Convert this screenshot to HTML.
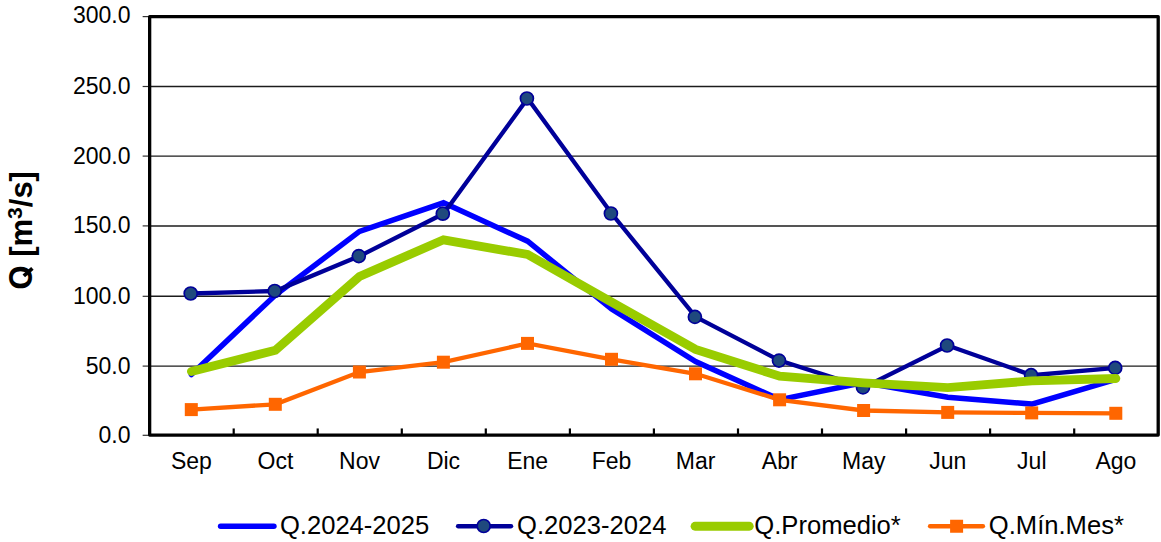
<!DOCTYPE html>
<html><head><meta charset="utf-8"><title>Q chart</title>
<style>
html,body{margin:0;padding:0;background:#fff;}
body{width:1161px;height:542px;overflow:hidden;font-family:"Liberation Sans",sans-serif;}
svg{display:block;}
text{font-family:"Liberation Sans",sans-serif;fill:#000;}
</style></head><body>
<svg width="1161" height="542" viewBox="0 0 1161 542">
<rect x="0" y="0" width="1161" height="542" fill="#fff"/>
<line x1="149.65" x2="1158.2" y1="366.10" y2="366.10" stroke="#1c1c1c" stroke-width="1.4"/>
<line x1="149.65" x2="1158.2" y1="296.30" y2="296.30" stroke="#1c1c1c" stroke-width="1.4"/>
<line x1="149.65" x2="1158.2" y1="225.95" y2="225.95" stroke="#1c1c1c" stroke-width="1.4"/>
<line x1="149.65" x2="1158.2" y1="156.10" y2="156.10" stroke="#1c1c1c" stroke-width="1.4"/>
<line x1="149.65" x2="1158.2" y1="86.45" y2="86.45" stroke="#1c1c1c" stroke-width="1.4"/>
<line x1="142.65" x2="149.65" y1="435.3" y2="435.3" stroke="#333" stroke-width="1.2"/>
<line x1="142.65" x2="149.65" y1="366.1" y2="366.1" stroke="#333" stroke-width="1.2"/>
<line x1="142.65" x2="149.65" y1="296.3" y2="296.3" stroke="#333" stroke-width="1.2"/>
<line x1="142.65" x2="149.65" y1="225.9" y2="225.9" stroke="#333" stroke-width="1.2"/>
<line x1="142.65" x2="149.65" y1="156.1" y2="156.1" stroke="#333" stroke-width="1.2"/>
<line x1="142.65" x2="149.65" y1="86.5" y2="86.5" stroke="#333" stroke-width="1.2"/>
<line x1="142.65" x2="149.65" y1="16.6" y2="16.6" stroke="#333" stroke-width="1.2"/>
<line x1="233.7" x2="233.7" y1="428.45" y2="435.05" stroke="#000" stroke-width="2.2"/>
<line x1="317.7" x2="317.7" y1="428.45" y2="435.05" stroke="#000" stroke-width="2.2"/>
<line x1="401.8" x2="401.8" y1="428.45" y2="435.05" stroke="#000" stroke-width="2.2"/>
<line x1="485.8" x2="485.8" y1="428.45" y2="435.05" stroke="#000" stroke-width="2.2"/>
<line x1="569.9" x2="569.9" y1="428.45" y2="435.05" stroke="#000" stroke-width="2.2"/>
<line x1="653.9" x2="653.9" y1="428.45" y2="435.05" stroke="#000" stroke-width="2.2"/>
<line x1="738.0" x2="738.0" y1="428.45" y2="435.05" stroke="#000" stroke-width="2.2"/>
<line x1="822.0" x2="822.0" y1="428.45" y2="435.05" stroke="#000" stroke-width="2.2"/>
<line x1="906.1" x2="906.1" y1="428.45" y2="435.05" stroke="#000" stroke-width="2.2"/>
<line x1="990.1" x2="990.1" y1="428.45" y2="435.05" stroke="#000" stroke-width="2.2"/>
<line x1="1074.2" x2="1074.2" y1="428.45" y2="435.05" stroke="#000" stroke-width="2.2"/>
<polyline points="191.4,374.6 275.4,295.0 359.5,231.4 443.5,202.8 527.6,241.2 611.6,309.1 695.6,361.6 779.7,399.6 863.7,382.6 947.8,397.2 1031.8,404.1 1115.9,379.4" fill="none" stroke="#0000ff" stroke-width="5.5" stroke-linejoin="miter" stroke-linecap="round"/>
<polyline points="191.4,293.5 275.4,291.0 359.5,256.1 443.5,213.7 527.6,98.5 611.6,213.5 695.6,316.9 779.7,360.6 863.7,387.4 947.8,345.5 1031.8,375.2 1115.9,367.9" fill="none" stroke="#000099" stroke-width="4.3" stroke-linejoin="miter" stroke-linecap="round"/>
<circle cx="190.7" cy="293.5" r="6.5" fill="#1f497d" stroke="#000099" stroke-width="1.7"/>
<circle cx="274.7" cy="291.0" r="6.5" fill="#1f497d" stroke="#000099" stroke-width="1.7"/>
<circle cx="358.8" cy="256.1" r="6.5" fill="#1f497d" stroke="#000099" stroke-width="1.7"/>
<circle cx="442.8" cy="213.7" r="6.5" fill="#1f497d" stroke="#000099" stroke-width="1.7"/>
<circle cx="526.9" cy="98.5" r="6.5" fill="#1f497d" stroke="#000099" stroke-width="1.7"/>
<circle cx="610.9" cy="213.5" r="6.5" fill="#1f497d" stroke="#000099" stroke-width="1.7"/>
<circle cx="694.9" cy="316.9" r="6.5" fill="#1f497d" stroke="#000099" stroke-width="1.7"/>
<circle cx="779.0" cy="360.6" r="6.5" fill="#1f497d" stroke="#000099" stroke-width="1.7"/>
<circle cx="863.0" cy="387.4" r="6.5" fill="#1f497d" stroke="#000099" stroke-width="1.7"/>
<circle cx="947.1" cy="345.5" r="6.5" fill="#1f497d" stroke="#000099" stroke-width="1.7"/>
<circle cx="1031.1" cy="375.2" r="6.5" fill="#1f497d" stroke="#000099" stroke-width="1.7"/>
<circle cx="1115.2" cy="367.9" r="6.5" fill="#1f497d" stroke="#000099" stroke-width="1.7"/>
<polyline points="191.4,371.5 275.4,350.2 359.5,276.4 443.5,239.8 527.6,254.5 611.6,302.2 695.6,349.4 779.7,376.2 863.7,382.8 947.8,387.6 1031.8,380.9 1115.9,378.5" fill="none" stroke="#99cc00" stroke-width="8.8" stroke-linejoin="miter" stroke-linecap="round"/>
<polyline points="191.4,409.6 275.4,404.3 359.5,372.0 443.5,362.2 527.6,343.4 611.6,359.3 695.6,373.8 779.7,399.8 863.7,410.5 947.8,412.4 1031.8,412.9 1115.9,413.3" fill="none" stroke="#ff6600" stroke-width="4.3" stroke-linejoin="miter" stroke-linecap="round"/>
<rect x="184.8" y="403.1" width="13" height="13" fill="#ff6600"/>
<rect x="268.8" y="397.8" width="13" height="13" fill="#ff6600"/>
<rect x="352.9" y="365.5" width="13" height="13" fill="#ff6600"/>
<rect x="436.9" y="355.7" width="13" height="13" fill="#ff6600"/>
<rect x="521.0" y="336.9" width="13" height="13" fill="#ff6600"/>
<rect x="605.0" y="352.8" width="13" height="13" fill="#ff6600"/>
<rect x="689.0" y="367.3" width="13" height="13" fill="#ff6600"/>
<rect x="773.1" y="393.3" width="13" height="13" fill="#ff6600"/>
<rect x="857.1" y="404.0" width="13" height="13" fill="#ff6600"/>
<rect x="941.2" y="405.9" width="13" height="13" fill="#ff6600"/>
<rect x="1025.2" y="406.4" width="13" height="13" fill="#ff6600"/>
<rect x="1109.3" y="406.8" width="13" height="13" fill="#ff6600"/>
<rect x="149.65" y="16.6" width="1008.5500000000001" height="418.45" fill="none" stroke="#000" stroke-width="3.3" stroke-linejoin="round"/>
<text x="130.5" y="442.8" font-size="23" text-anchor="end">0.0</text>
<text x="130.5" y="373.6" font-size="23" text-anchor="end">50.0</text>
<text x="130.5" y="303.8" font-size="23" text-anchor="end">100.0</text>
<text x="130.5" y="233.4" font-size="23" text-anchor="end">150.0</text>
<text x="130.5" y="163.6" font-size="23" text-anchor="end">200.0</text>
<text x="130.5" y="94.0" font-size="23" text-anchor="end">250.0</text>
<text x="130.5" y="22.8" font-size="23" text-anchor="end">300.0</text>
<text x="191.4" y="469.4" font-size="23" text-anchor="middle">Sep</text>
<text x="275.4" y="469.4" font-size="23" text-anchor="middle">Oct</text>
<text x="359.5" y="469.4" font-size="23" text-anchor="middle">Nov</text>
<text x="443.5" y="469.4" font-size="23" text-anchor="middle">Dic</text>
<text x="527.6" y="469.4" font-size="23" text-anchor="middle">Ene</text>
<text x="611.6" y="469.4" font-size="23" text-anchor="middle">Feb</text>
<text x="695.6" y="469.4" font-size="23" text-anchor="middle">Mar</text>
<text x="779.7" y="469.4" font-size="23" text-anchor="middle">Abr</text>
<text x="863.7" y="469.4" font-size="23" text-anchor="middle">May</text>
<text x="947.8" y="469.4" font-size="23" text-anchor="middle">Jun</text>
<text x="1031.8" y="469.4" font-size="23" text-anchor="middle">Jul</text>
<text x="1115.9" y="469.4" font-size="23" text-anchor="middle">Ago</text>
<g transform="translate(32.0,289.5) rotate(-90)" font-size="31" font-weight="bold"><text x="0" y="0" transform="scale(1,1.07)">O</text><line x1="13.6" y1="-8.2" x2="21.2" y2="0.4" stroke="#000" stroke-width="3.7"/><text x="32.7" y="0">[m<tspan font-size="21" dy="-10">3</tspan><tspan dy="10">/s]</tspan></text></g>
<line x1="220.6" x2="273.9" y1="526.25" y2="526.25" stroke="#0000ff" stroke-width="5.5" stroke-linecap="round"/>
<text x="279.9" y="533.8" font-size="25.6">Q.2024-2025</text>
<line x1="458" x2="511.1" y1="526.25" y2="526.25" stroke="#000099" stroke-width="4.3" stroke-linecap="round"/>
<circle cx="483.7" cy="526.0" r="6.5" fill="#1f497d" stroke="#000099" stroke-width="1.7"/>
<text x="517.1" y="533.8" font-size="25.6">Q.2023-2024</text>
<line x1="695" x2="749.3" y1="526.25" y2="526.25" stroke="#99cc00" stroke-width="8.8" stroke-linecap="round"/>
<text x="754.3" y="533.8" font-size="25.6">Q.Promedio*</text>
<line x1="930" x2="983" y1="526.25" y2="526.25" stroke="#ff6600" stroke-width="4.3" stroke-linecap="round"/>
<rect x="950.1" y="519.75" width="13" height="13" fill="#ff6600"/>
<text x="988.8" y="533.8" font-size="25.6">Q.Mín.Mes*</text>
</svg></body></html>
